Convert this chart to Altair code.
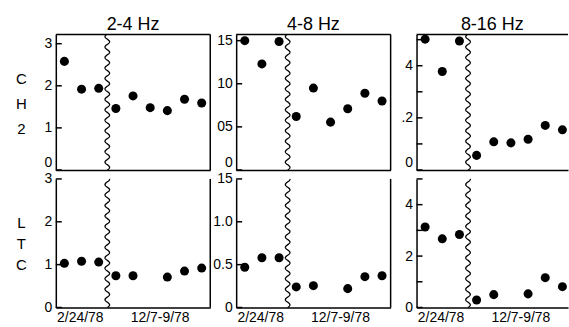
import altair as alt
import numpy as np
import pandas as pd

# ---------------- data ----------------
bands = ["2-4 Hz", "4-8 Hz", "8-16 Hz"]
row_names = [["C", "H", "2"], ["L", "T", "C"]]
slots = [0, 1, 2, 3, 4, 5, 6, 7, 8]
date_labels = ["2/24/78", "12/7-9/78"]
date_pos = [1.4, 6.05]

ch2_2_4 = [2.58, 1.92, 1.94, 1.46, 1.76, 1.48, 1.41, 1.68, 1.59]
ch2_4_8 = [1.50, 1.23, 1.49, 0.62, 0.95, 0.555, 0.71, 0.89, 0.80]
ch2_8_16 = [5.02, 3.78, 4.95, 0.56, 1.08, 1.04, 1.18, 1.71, 1.54]
ltc_2_4 = [1.03, 1.08, 1.06, 0.74, 0.74, None, 0.71, 0.85, 0.92]
ltc_4_8 = [0.47, 0.58, 0.58, 0.24, 0.255, None, 0.22, 0.36, 0.37]
ltc_8_16 = [3.13, 2.67, 2.84, 0.29, 0.50, None, 0.53, 1.16, 0.81]

# y tick values and their printed labels
tick_2_4 = [0, 1, 2, 3]
lab_2_4 = ["0", "1", "2", "3"]
tick_4_8 = [0, 0.5, 1.0, 1.5]
lab_4_8_ch2 = ["0", "05", "10", "15"]
lab_4_8_ltc = ["0", "0.5", "1.0", "15"]
tick_8_16 = [0, 1, 2, 3, 4, 5]
lab_8_16_ch2 = ["0", "", ".2", "", "4", ""]
lab_8_16_ltc = ["0", "", "2", "", "4", ""]

ymax_top = [3.22, 1.572, 5.2]
ymax_bot = [3.0, 1.5, 5.0]

SLOT_PX = 155 / 9.0
FONT = "Liberation Sans"


def label_expr(vals, labs):
    expr = "''"
    for v, l in zip(vals, labs):
        expr = f"datum.value == {v} ? '{l}' : ({expr})"
    return expr


def panel(values, ymax, tvals, tlabs, w, h, top_row, right_edge, row_title, row_lh, title):
    xmax = w / SLOT_PX
    xs = alt.Scale(domain=[0, xmax], nice=False, zero=False)
    ys = alt.Scale(domain=[0, ymax], nice=False, zero=False)

    df = pd.DataFrame({"slot": [s + 0.5 for s in slots], "v": values}).dropna()

    if top_row:
        xaxis = alt.Axis(labels=False, ticks=False, tickSize=0, grid=False, title=None,
                         domainColor="black", domainWidth=1.5)
    else:
        xaxis = alt.Axis(values=date_pos, labelExpr=label_expr(date_pos, date_labels),
                         ticks=False, tickSize=0, grid=False, title=None,
                         domainColor="black", domainWidth=1.5, labelFont=FONT,
                         labelFontSize=14, labelColor="black", labelPadding=3,
                         labelAngle=0)
    yargs = dict(values=tvals, labelExpr=label_expr(tvals, tlabs), ticks=False, tickSize=0,
                 grid=False, domainColor="black", domainWidth=1.5, labelFont=FONT,
                 labelFontSize=14, labelColor="black", labelPadding=4)
    if top_row:
        yargs.update(labelBaseline={"condition": {"test": "datum.value == 0", "value": "bottom"},
                                    "value": "middle"})
    if row_title is not None:
        yargs.update(title=row_title, titleAngle=0, titleX=-35, titleY=44,
                     titleAlign="center", titleBaseline="middle", titleFont=FONT,
                     titleFontSize=15, titleFontWeight="normal", titleColor="black",
                     titleLineHeight=row_lh)
    else:
        yargs.update(title=None)
    yaxis = alt.Axis(**yargs)

    pts = alt.Chart(df).mark_circle(size=82, color="black", opacity=1).encode(
        x=alt.X("slot:Q", scale=xs, axis=xaxis),
        y=alt.Y("v:Q", scale=ys, axis=yaxis),
    )

    # wavy break line between the two recording dates
    t = np.linspace(0, 1, 500)
    amp = 2.3 / SLOT_PX
    wave = pd.DataFrame({"i": np.arange(len(t)),
                         "x": 3.0 + amp * np.sin(2 * np.pi * t * h / 10.5),
                         "y": t * ymax})
    wav = alt.Chart(wave).mark_line(color="black", strokeWidth=1.3).encode(
        x=alt.X("x:Q", scale=xs, axis=xaxis),
        y=alt.Y("y:Q", scale=ys, axis=yaxis),
        order="i:Q",
    )

    tk = pd.DataFrame({"t": tvals})
    tks = alt.Chart(tk).mark_rule(color="black", strokeWidth=1.5).encode(
        y=alt.Y("t:Q", scale=ys, axis=yaxis),
        x=alt.datum(0, scale=xs, axis=xaxis),
        x2=alt.datum(6 / SLOT_PX),
    )

    layers = [pts, wav, tks]
    one = pd.DataFrame({"a": [0]})
    if right_edge:
        layers.append(alt.Chart(one).mark_rule(color="black", strokeWidth=1.5).encode(
            x=alt.datum(xmax, scale=xs, axis=xaxis)))
    if top_row:
        layers.append(alt.Chart(one).mark_rule(color="black", strokeWidth=1.5).encode(
            y=alt.datum(ymax, scale=ys, axis=yaxis)))

    props = dict(width=w, height=h)
    if title is not None:
        props["title"] = alt.TitleParams(title, font=FONT, fontSize=18, fontWeight="normal",
                                         color="black", anchor="middle", offset=-2)
    return alt.layer(*layers).properties(**props)


top_vals = [ch2_2_4, ch2_4_8, ch2_8_16]
bot_vals = [ltc_2_4, ltc_4_8, ltc_8_16]
top_labs = [(tick_2_4, lab_2_4), (tick_4_8, lab_4_8_ch2), (tick_8_16, lab_8_16_ch2)]
bot_labs = [(tick_2_4, lab_2_4), (tick_4_8, lab_4_8_ltc), (tick_8_16, lab_8_16_ltc)]
widths = [155, 155, 152]

panels = []
for c in range(3):
    panels.append(panel(top_vals[c], ymax_top[c], top_labs[c][0], top_labs[c][1], widths[c], 136,
                        True, c < 2, row_names[0] if c == 0 else None, 25, bands[c]))
for c in range(3):
    panels.append(panel(bot_vals[c], ymax_bot[c], bot_labs[c][0], bot_labs[c][1], widths[c], 129,
                        False, c < 2, row_names[1] if c == 0 else None, 21, None))

chart = alt.concat(*panels, columns=3, spacing={"row": 9, "column": 26}, bounds="flush").properties(
    padding={"left": 15, "top": 15, "right": 0, "bottom": 0},
    background="white",
).configure_view(strokeWidth=0)

chart.save("out.html", embed_options={"renderer": "svg", "actions": False})
